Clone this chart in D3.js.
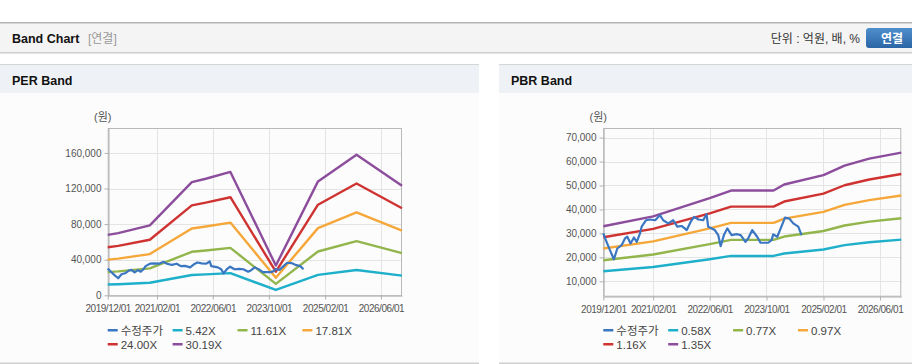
<!DOCTYPE html>
<html><head><meta charset="utf-8">
<script src="https://cdn.jsdelivr.net/npm/d3@7"></script>
<style>
html,body{margin:0;padding:0;background:#fff;}
svg{display:block;font-family:"Liberation Sans","Noto Sans CJK KR",sans-serif;}
</style></head>
<body><svg id="c" width="912" height="364"></svg>
<script>
// ---------- DATA ----------
const xTickLabels = ["2019/12/01","2021/02/01","2022/06/01","2023/10/01","2025/02/01","2026/06/01"];
const xDomain = ["2019-12-01","2026-12-01"];

const priceDates = ["2019-12-01","2019-12-29","2020-01-27","2020-03-01","2020-03-30","2020-05-06","2020-06-04","2020-06-24","2020-07-22","2020-08-20","2020-09-13","2020-10-11","2020-10-25","2020-12-02","2021-01-06","2021-02-18","2021-03-31","2021-04-28","2021-06-10","2021-07-23","2021-08-27","2021-10-03","2021-11-16","2021-12-19","2022-01-18","2022-02-24","2022-04-06","2022-05-05","2022-05-19","2022-07-15","2022-08-13","2022-09-03","2022-10-01","2022-10-30","2022-12-06","2023-01-18","2023-02-22","2023-04-04","2023-04-27","2023-06-01","2023-07-13","2023-08-11","2023-10-16","2023-11-14","2023-11-28","2024-01-02","2024-01-25","2024-03-08","2024-04-14","2024-05-18","2024-06-30","2024-07-28"];
const priceValues = [30000,26500,23000,19200,23700,25100,27900,28600,25800,28300,26500,30000,32800,35500,35800,35500,37600,35500,34200,35500,32800,33100,31400,34800,36900,35800,35500,38000,32800,31400,29300,24700,29300,32100,29300,29700,29300,26500,27900,31400,28600,26100,26100,27200,29600,28600,31400,36600,36200,34200,32800,29300];

// PER band
const perDates = ["2019-12-01","2020-03-01","2020-12-01","2021-12-01","2022-04-01","2022-11-01","2023-12-01","2024-12-01","2025-11-01","2026-12-01"];
const perLabels = ["5.42X","11.61X","17.81X","24.00X","30.19X"];
const per542  = [12200,12500,14100,22800,23500,24900,6000,23000,28400,22100];
const per1161 = [26100,26900,30200,48900,50400,53300,12800,49200,60800,47300];
const per1781 = [40100,41200,46300,75000,77300,81700,19700,75500,93200,72600];
const per2400 = [54000,55600,62400,101000,104200,110200,26500,101800,125600,97800];
const per3019 = [67900,69900,78500,127100,131000,138600,33400,128000,158000,123000];
const perYTicks = [0,40000,80000,120000,160000];
const perYDomain = [0,188000];

// PBR band
const pbrDates = ["2019-12-01","2021-02-01","2022-06-01","2022-12-01","2023-12-01","2024-03-01","2025-02-01","2025-08-01","2026-03-01","2026-12-01"];
const pbrLabels = ["0.58X","0.77X","0.97X","1.16X","1.35X"];
const pbr058 = [14200,16000,19200,20600,20600,21600,23300,25100,26300,27400];
const pbr077 = [18800,21200,25500,27300,27300,28700,31000,33300,34900,36300];
const pbr097 = [23700,26700,32100,34400,34400,36200,39000,41900,43900,45800];
const pbr116 = [28400,31900,38400,41200,41200,43300,46600,50100,52500,54800];
const pbr135 = [33000,37100,44700,47900,47900,50400,54300,58300,61200,63700];
const pbrYTicks = [10000,20000,30000,40000,50000,60000,70000];
const pbrYDomain = [4000,74000];

const priceLabel = "수정주가";
const colors = ["#3a76c2","#1eafca","#92b54c","#f5a73a","#cf3331","#8c4d9c"];

// ---------- DRAW ----------
const svg = d3.select("#c");
const parse = d3.timeParse("%Y-%m-%d");
const parseTick = d3.timeParse("%Y/%m/%d");

// page header
svg.append("rect").attr("x",0).attr("y",22).attr("width",912).attr("height",31).attr("fill","#f4f4f4");
svg.append("rect").attr("x",0).attr("y",22).attr("width",912).attr("height",1.5).attr("fill","#b4b4b4");
svg.append("rect").attr("x",0).attr("y",52).attr("width",912).attr("height",1).attr("fill","#cfcfcf");
svg.append("rect").attr("x",0).attr("y",53).attr("width",912).attr("height",1).attr("fill","#e6e6e6");
svg.append("text").attr("x",12).attr("y",43).attr("font-size",12.5).attr("font-weight","bold").attr("fill","#111").text("Band Chart");
svg.append("text").attr("x",88).attr("y",43).attr("font-size",12).attr("fill","#999").text("[연결]");
svg.append("text").attr("x",860).attr("y",43).attr("font-size",12).attr("fill","#333").attr("text-anchor","end").text("단위 : 억원, 배, %");
const grad = svg.append("defs").append("linearGradient").attr("id","btn").attr("x1",0).attr("y1",0).attr("x2",0).attr("y2",1);
grad.append("stop").attr("offset","0%").attr("stop-color","#4f8fcc");
grad.append("stop").attr("offset","100%").attr("stop-color","#2b65a6");
svg.append("rect").attr("x",866).attr("y",28).attr("width",52).attr("height",20).attr("rx",3).attr("fill","url(#btn)");
svg.append("text").attr("x",892).attr("y",42.5).attr("font-size",12).attr("font-weight","bold").attr("fill","#fff").attr("text-anchor","middle").text("연결");

function panel(x0, w, title) {
  svg.append("rect").attr("x",x0).attr("y",64).attr("width",w).attr("height",299).attr("fill","#fcfcfc");
  svg.append("rect").attr("x",x0).attr("y",64).attr("width",w).attr("height",29).attr("fill","#eef2f7");
  svg.append("rect").attr("x",x0).attr("y",64).attr("width",w).attr("height",1).attr("fill","#d6d6d6");
  svg.append("rect").attr("x",x0).attr("y",362.5).attr("width",w).attr("height",1.5).attr("fill","#cfcfcf");
  svg.append("text").attr("x",x0+12).attr("y",85).attr("font-size",12.5).attr("font-weight","bold").attr("fill","#111").text(title);
}
panel(0,479,"PER Band");
panel(499,413,"PBR Band");

function chart(opt) {
  const x = d3.scaleTime().domain(xDomain.map(parse)).range([opt.left, opt.right]);
  const y = d3.scaleLinear().domain(opt.yDomain).range([opt.bottom, opt.top]);
  const g = svg.append("g");
  const tickDates = xTickLabels.map(parseTick);
  g.selectAll(".gx").data(tickDates.slice(1)).join("line")
    .attr("x1",d=>Math.round(x(d))+0.5).attr("x2",d=>Math.round(x(d))+0.5)
    .attr("y1",opt.top).attr("y2",opt.bottom).attr("stroke","#e4e4e4");
  g.selectAll(".gy").data(opt.yTicks.filter(t=>y(t)<opt.bottom-1)).join("line")
    .attr("x1",opt.left).attr("x2",opt.right)
    .attr("y1",d=>Math.round(y(d))+0.5).attr("y2",d=>Math.round(y(d))+0.5).attr("stroke","#e4e4e4");
  g.append("rect").attr("x",opt.left+0.5).attr("y",opt.top+0.5)
    .attr("width",opt.right-opt.left-1).attr("height",opt.bottom-opt.top)
    .attr("fill","none").attr("stroke","#b8b8b8");
  const ax = d3.axisBottom(x).tickValues(tickDates).tickFormat(d3.timeFormat("%Y/%m/%d")).tickSize(4).tickSizeOuter(0);
  const gx = g.append("g").attr("transform",`translate(0,${Math.round(opt.bottom)+0.5})`).call(ax);
  gx.select(".domain").attr("stroke","#b0b0b0");
  gx.selectAll(".tick line").attr("stroke","#b0b0b0");
  gx.selectAll(".tick text").attr("font-size",10).attr("fill","#555").attr("letter-spacing","-0.45px")
    .attr("font-family","Liberation Sans, sans-serif").attr("dy","0.9em");
  const ay = d3.axisLeft(y).tickValues(opt.yTicks).tickFormat(d3.format(",")).tickSize(4).tickSizeOuter(0);
  const gy = g.append("g").attr("transform",`translate(${Math.round(opt.left)+0.5},0)`).call(ay);
  gy.select(".domain").attr("stroke","#b0b0b0");
  gy.selectAll(".tick line").attr("stroke","#b0b0b0");
  gy.selectAll(".tick text").attr("font-size",10).attr("fill","#555").attr("x",-7)
    .attr("font-family","Liberation Sans, sans-serif");
  g.append("text").attr("x",opt.left-5).attr("y",121).attr("font-size",11).attr("fill","#555")
    .attr("text-anchor","middle").text("(원)");
  const line = d3.line().x(d=>x(d[0])).y(d=>y(d[1]));
  const bd = opt.bandDates.map(parse);
  opt.bands.forEach((vals,i)=>{
    g.append("path").datum(vals.map((v,j)=>[bd[j],v])).attr("d",line)
      .attr("fill","none").attr("stroke",colors[i+1]).attr("stroke-width",2.4).attr("stroke-linejoin","round");
  });
  const pd = priceDates.map(parse);
  g.append("path").datum(priceValues.map((v,j)=>[pd[j],v])).attr("d",line)
    .attr("fill","none").attr("stroke",colors[0]).attr("stroke-width",2.2).attr("stroke-linejoin","round");
  const labels = [priceLabel].concat(opt.labels);
  labels.forEach((lab,i)=>{
    const col = i%4, row = Math.floor(i/4);
    const lx = opt.left + col*64.9, ly = 330 + row*14;
    g.append("rect").attr("x",lx).attr("y",ly-1).attr("width",10).attr("height",2.5).attr("fill",colors[i]);
    g.append("text").attr("x",lx+13).attr("y",ly+4.5).attr("font-size",11.5).attr("fill","#444").text(lab);
  });
}

chart({left:107.7,right:402,top:128,bottom:295.3,yDomain:perYDomain,yTicks:perYTicks,
  bandDates:perDates,bands:[per542,per1161,per1781,per2400,per3019],labels:perLabels});
chart({left:603.3,right:901.3,top:128,bottom:295.7,yDomain:pbrYDomain,yTicks:pbrYTicks,
  bandDates:pbrDates,bands:[pbr058,pbr077,pbr097,pbr116,pbr135],labels:pbrLabels});
</script></body></html>
